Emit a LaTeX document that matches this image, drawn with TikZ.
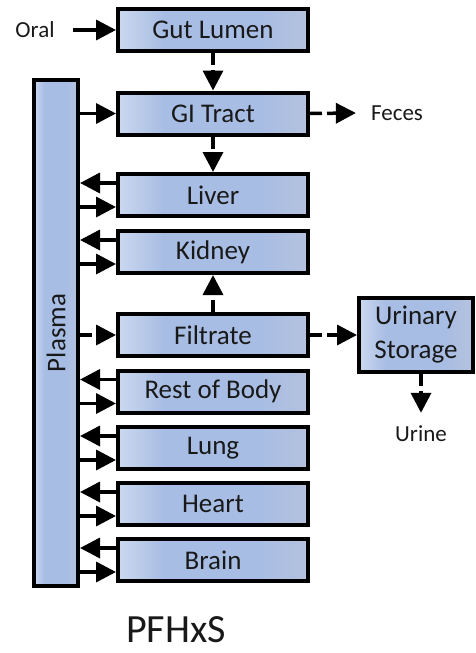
\documentclass[tikz,border=0pt]{standalone}
\usepackage{fontspec}
\setmainfont{Carlito}
\usetikzlibrary{arrows.meta}

\definecolor{bl1}{RGB}{200,214,238}
\definecolor{bl2}{RGB}{168,189,228}
\definecolor{bl3}{RGB}{180,194,222}
\definecolor{ink}{RGB}{25,25,25}

% light left edge, blue body, slightly greyer right edge
\pgfdeclarehorizontalshading{boxfill}{100bp}{color(0bp)=(bl1); color(26bp)=(bl1); color(37bp)=(bl2); color(62bp)=(bl2); color(75bp)=(bl3); color(100bp)=(bl3)}

\tikzset{
  compartment/.style={draw=black, line width=4pt, shade, shading=boxfill,
    minimum width=190pt, minimum height=42pt, inner sep=0pt,
    text=ink, font=\fontsize{27}{32}\selectfont},
  tag/.style={inner sep=0pt, text=ink, font=\fontsize{23}{27}\selectfont},
  flow/.style={line width=3.5pt, -{Triangle[length=20pt,width=20pt]}},
  dflow/.style={flow, dash pattern=on 12pt off 5pt},
}

\begin{document}
\begin{tikzpicture}[x=1pt, y=-1pt]
  \useasboundingbox (0,0) rectangle (475,653);

  % central plasma column
  \node[compartment, minimum width=44pt, minimum height=506pt] (plasma) at (56,333)
    {\rotatebox{90}{Plasma}};

  % tissue compartments
  \node[compartment] (gut)    at (213,30)    {Gut Lumen};
  \node[compartment] (gi)     at (213,113.5) {GI Tract};
  \node[compartment] (liver)  at (213,195)   {Liver};
  \node[compartment] (kidney) at (213,252)   {Kidney};
  \node[compartment] (filt)   at (213,335)   {Filtrate};
  \node[compartment] (rest)   at (213,391.5) {Rest of Body};
  \node[compartment] (lung)   at (213,448)   {Lung};
  \node[compartment] (heart)  at (213,504)   {Heart};
  \node[compartment] (brain)  at (213,560)   {Brain};

  \node[compartment, minimum width=114pt, minimum height=74pt, align=center,
        font=\fontsize{27}{34}\selectfont] (uri) at (416,335) {Urinary\\Storage};

  % inputs and outputs
  \node[tag] (oral)  at (35,30)   {Oral};
  \node[tag] (feces) at (397,113) {Feces};
  \node[tag] (urine) at (421,434) {Urine};

  \node[anchor=base, inner sep=0pt, text=ink, font=\fontsize{40}{48}\selectfont]
    (title) at (176,642) {PFHxS};

  % absorption path
  \draw[flow]  ([xshift=18pt]oral.east) -- (gut.west);
  \draw[dflow] (gut) -- (gi);
  \draw[dflow] (gi) -- (liver);
  \draw[dflow] (gi.east) -- ([xshift=-15pt]feces.west);
  \draw[flow]  (plasma.east |- gi) -- (gi.west);

  % renal path
  \draw[dflow] (plasma.east |- filt) -- (filt.west);
  \draw[dflow] (filt) -- (kidney);
  \draw[dflow] (filt) -- (uri);
  \draw[dflow] (uri.south -| urine) -- ([yshift=13pt]urine.north);

  % exchange between plasma and each tissue
  \foreach \t in {liver,kidney,rest,lung,heart,brain}{
    \draw[flow] ([yshift=12pt]\t.west) -- ([yshift=12pt]\t.west -| plasma.east);
    \draw[flow] ([yshift=-12pt]\t.west -| plasma.east) -- ([yshift=-12pt]\t.west);
  }
\end{tikzpicture}
\end{document}
